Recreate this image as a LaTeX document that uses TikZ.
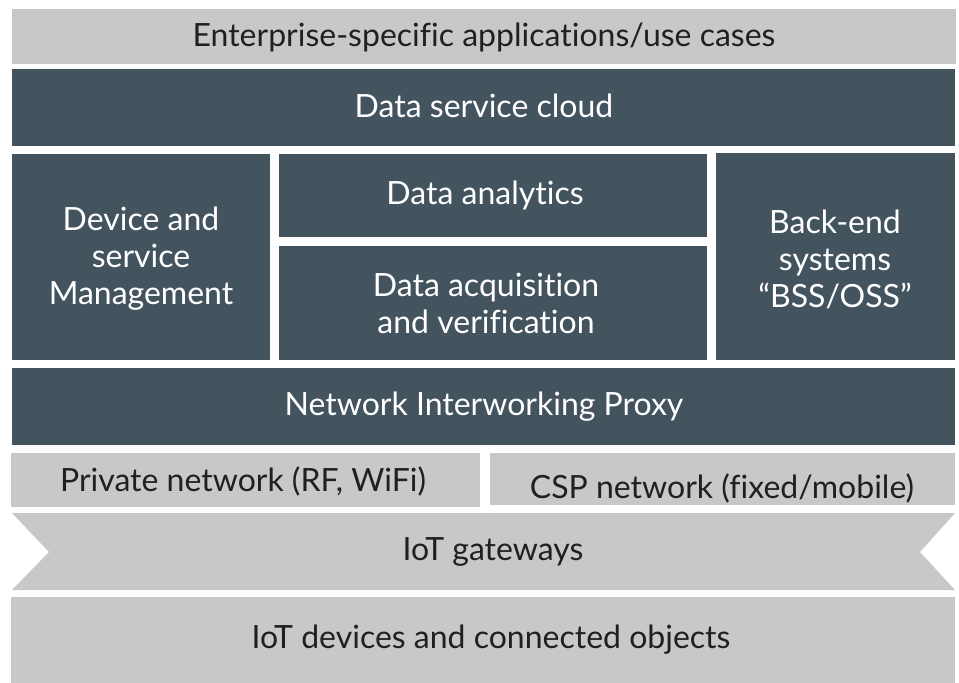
\documentclass[tikz,border=0pt]{standalone}
\usepackage{fontspec}
\setmainfont{Lato}[Ligatures=NoCommon]
\definecolor{slate}{HTML}{44545F}
\definecolor{paleband}{HTML}{C6C8CA}
\definecolor{inkdark}{HTML}{231F20}
\begin{document}
\begin{tikzpicture}[x=1pt,y=-1pt,
  caption/.style={font=\fontsize{32}{37}\selectfont, align=center, inner sep=0pt},
  ontop/.style={caption, text=white},
  onpale/.style={caption, text=inkdark}]
\useasboundingbox (0,0) rectangle (959,683);
\fill[white] (0,0) rectangle (959,683);
% top application layer
\fill[paleband] (12,9) rectangle (956,64);
\node[onpale] (apps) at (484,37) {Enterprise-specific applications/use cases};
% cloud layer
\fill[slate] (12,69) rectangle (955,146);
\node[ontop] (cloud) at (484,106) {Data service cloud};
% three columns
\fill[slate] (12,154) rectangle (270,360);
\node[ontop] (mgmt) at (141,259) {Device and\\service\\Management};
\fill[slate] (279,154) rectangle (707,237);
\node[ontop] (analytics) at (485,195) {Data analytics};
\fill[slate] (279,246) rectangle (707,360);
\node[ontop] (acq) at (486,303) {Data acquisition\\and verification};
\fill[slate] (716,153) rectangle (955,360);
\node[ontop] (bss) at (835,259) {Back-end\\systems\\``BSS/OSS''};
% proxy layer
\fill[slate] (12,368) rectangle (955,445);
\node[ontop] (proxy) at (484,407) {Network Interworking Proxy};
% network layer
\fill[paleband] (11,453) rectangle (480,507);
\node[onpale] (private) at (243,481) {Private network (RF, WiFi)};
\fill[paleband] (490,453) rectangle (955,505);
\node[onpale] (csp) at (722,488) {CSP network (fixed/mobile)};
% gateway band with notched ends
\fill[paleband] (12,513) -- (955,513) -- (920,552) -- (955,590) -- (12,590) -- (49,552) -- cycle;
\node[onpale] (gw) at (493,552) {IoT gateways};
% device layer
\fill[paleband] (11,597) rectangle (955,683);
\node[onpale] (devices) at (491,640) {IoT devices and connected objects};
\end{tikzpicture}
\end{document}
